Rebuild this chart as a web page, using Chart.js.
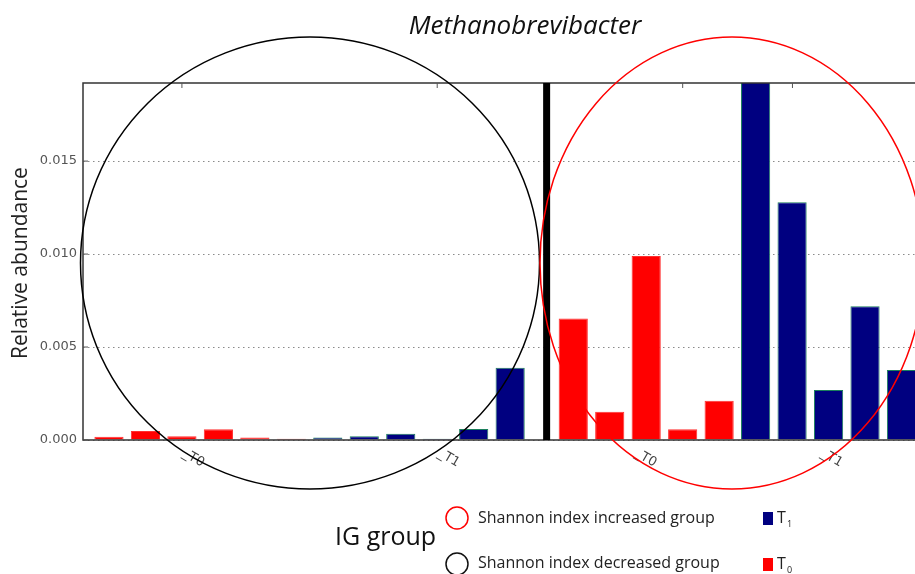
<!DOCTYPE html>
<html>
<head>
<meta charset="utf-8">
<script src="https://cdn.jsdelivr.net/npm/chart.js@4"></script>
<style>
html,body{margin:0;padding:0;background:#fff;overflow:hidden;}
canvas{display:block;}
</style>
</head>
<body>
<canvas id="c" width="915" height="574"></canvas>
<script>
// ---- data ----
const TITLE = 'Methanobrevibacter';
const Y_TITLE = 'Relative abundance';
const Y_TICKS = [0, 0.005, 0.010, 0.015];
const Y_MAX = 0.0192;
// Shannon index decreased group (left panel)
const DEC_T0 = [0.00018, 0.00048, 0.00020, 0.00058, 0.00013, 0.00007];
const DEC_T1 = [0.00013, 0.00020, 0.00034, 0.00007, 0.00059, 0.00389];
// Shannon index increased group (right panel)
const INC_T0 = [0.00654, 0.00152, 0.00989, 0.00058, 0.00211];
const INC_T1 = [0.01950, 0.01278, 0.00269, 0.00720, 0.00376];
const X_LABELS = ['_T0', '_T1', '_T0', '_T1'];
const X_LABEL_POS = [2, 9, 14.4, 19.5];
const X_TICK_POS = [2, 9, 15.73, 18.74];
const LEGEND_GROUP_TITLE = 'IG group';
const LEGEND_INC = 'Shannon index increased group';
const LEGEND_DEC = 'Shannon index decreased group';

// ---- layout constants ----
const RIGHT_START = 12.73;   // x position of first bar of the right panel
const SEPARATOR_X = 12.0;
const RED = '#ff0000', NAVY = '#000080';

function pts(vals, start) { return vals.map((v, i) => ({x: start + i, y: v})); }
const t0Data = pts(DEC_T0, 0).concat(pts(INC_T0, RIGHT_START));
const t1Data = pts(DEC_T1, DEC_T0.length).concat(pts(INC_T1, RIGHT_START + INC_T0.length));

const extras = {
  id: 'extras',
  afterDraw(chart) {
    const ctx = chart.ctx, ca = chart.chartArea;
    const xs = chart.scales.x, ys = chart.scales.y;
    ctx.save();
    // frame
    ctx.strokeStyle = '#333'; ctx.lineWidth = 1.5;
    ctx.beginPath();
    ctx.moveTo(ca.right, ca.top); ctx.lineTo(ca.left, ca.top);
    ctx.lineTo(ca.left, ca.bottom); ctx.lineTo(ca.right, ca.bottom);
    ctx.stroke();
    // y tick marks (inside)
    ctx.lineWidth = 1; ctx.strokeStyle = '#555';
    Y_TICKS.forEach(v => {
      const y = ys.getPixelForValue(v);
      ctx.beginPath(); ctx.moveTo(ca.left, y); ctx.lineTo(ca.left + 5, y); ctx.stroke();
    });
    // top x tick marks
    X_TICK_POS.forEach(p => {
      const x = xs.getPixelForValue(p);
      ctx.beginPath(); ctx.moveTo(x, ca.top); ctx.lineTo(x, ca.top + 5); ctx.stroke();
    });
    // separator
    const sx = xs.getPixelForValue(SEPARATOR_X);
    ctx.fillStyle = '#000';
    ctx.fillRect(sx - 3.5, ca.top, 7, ca.bottom - ca.top);
    // x labels rotated clockwise
    ctx.fillStyle = '#444';
    ctx.font = '13px "DejaVu Sans"';
    ctx.textAlign = 'left'; ctx.textBaseline = 'top';
    X_LABELS.forEach((t, i) => {
      const x = xs.getPixelForValue(X_LABEL_POS[i]);
      ctx.save();
      ctx.translate(x + 5, ca.bottom + 7);
      ctx.rotate(Math.PI / 6);
      ctx.fillText(t, 0, 0);
      ctx.restore();
    });
    // title
    ctx.fillStyle = '#111';
    ctx.font = 'italic 26px "Open Sans"';
    ctx.textAlign = 'center'; ctx.textBaseline = 'alphabetic';
    ctx.fillText(TITLE, 525, 34);
    // y title
    ctx.save();
    ctx.translate(21, 263);
    ctx.rotate(-Math.PI / 2);
    ctx.font = '21px "Open Sans"';
    ctx.fillStyle = '#222';
    ctx.textAlign = 'center'; ctx.textBaseline = 'middle';
    ctx.fillText(Y_TITLE, 0, 0);
    ctx.restore();
    // group circles
    ctx.lineWidth = 1.5;
    ctx.strokeStyle = '#000';
    ctx.beginPath(); ctx.ellipse(310, 263, 229.5, 226, 0, 0, Math.PI * 2); ctx.stroke();
    ctx.strokeStyle = RED;
    ctx.beginPath(); ctx.ellipse(732, 263, 192, 226, 0, 0, Math.PI * 2); ctx.stroke();
    // legend
    ctx.fillStyle = '#111';
    ctx.font = '25px "Open Sans"';
    ctx.textAlign = 'left'; ctx.textBaseline = 'alphabetic';
    ctx.fillText(LEGEND_GROUP_TITLE, 335, 545);
    ctx.strokeStyle = RED; ctx.lineWidth = 1.5;
    ctx.beginPath(); ctx.arc(457, 518, 11, 0, Math.PI * 2); ctx.stroke();
    ctx.strokeStyle = '#111';
    ctx.beginPath(); ctx.arc(457, 564, 11, 0, Math.PI * 2); ctx.stroke();
    ctx.font = '16px "Open Sans"'; ctx.textBaseline = 'middle';
    ctx.fillStyle = '#222';
    ctx.fillText(LEGEND_INC, 478, 518);
    ctx.fillText(LEGEND_DEC, 478, 563);
    ctx.fillStyle = NAVY; ctx.fillRect(763, 512, 10, 13);
    ctx.fillStyle = RED; ctx.fillRect(763, 558, 10, 13);
    ctx.fillStyle = '#222';
    ctx.font = '16px "Open Sans"';
    ctx.fillText('T', 777, 518);
    ctx.fillText('T', 777, 564);
    ctx.font = '9px "Open Sans"';
    ctx.fillText('1', 787, 524);
    ctx.fillText('0', 787, 570);
    ctx.restore();
  }
};

new Chart(document.getElementById('c'), {
  type: 'bar',
  data: {
    datasets: [
      {label: 'T0', data: t0Data, backgroundColor: RED, borderColor: '#ff3030', borderWidth: 1, grouped: false},
      {label: 'T1', data: t1Data, backgroundColor: NAVY, borderColor: '#1b7f5c', borderWidth: 1, grouped: false}
    ]
  },
  options: {
    responsive: false,
    animation: false,
    devicePixelRatio: 1,
    layout: {padding: {left: 0, right: 0, top: 83, bottom: 134}},
    categoryPercentage: 1,
    barPercentage: 0.8,
    plugins: {legend: {display: false}, tooltip: {enabled: false}, title: {display: false}},
    scales: {
      x: {type: 'linear', display: false, offset: false, bounds: 'data', min: -0.712, max: 22.1},
      y: {
        min: 0, max: Y_MAX,
        afterFit(s) { s.width = 83; },
        afterBuildTicks(s) { s.ticks = Y_TICKS.map(v => ({value: v})); },
        ticks: {
          padding: 6,
          color: '#555',
          font: {family: 'DejaVu Sans', size: 13},
          callback: v => Number(v).toFixed(3)
        },
        grid: {color: '#8a8a8a', lineWidth: 1, drawTicks: false},
        border: {display: false, dash: [1.5, 3.5]}
      }
    }
  },
  plugins: [extras]
});
</script>
</body>
</html>
